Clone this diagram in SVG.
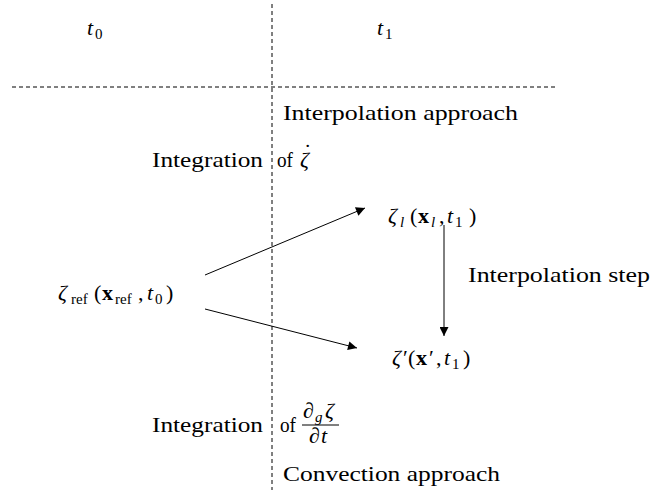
<svg xmlns="http://www.w3.org/2000/svg" width="651" height="494" viewBox="0 0 651 494">
<style>
text{font-family:"Liberation Serif","DejaVu Serif",serif;font-size:21px;fill:#000}
.m{font-size:22px}
.it{font-style:italic}
.b{font-weight:bold}
.sub{font-size:15px}
.dash{stroke:#000;stroke-width:1;stroke-dasharray:4,3;fill:none}
.conn{stroke:#000;stroke-width:1;fill:none}
</style>
<defs>
<marker id="ah" viewBox="0 0 10 10" refX="10" refY="5" markerWidth="22" markerHeight="9" markerUnits="userSpaceOnUse" orient="auto">
<path d="M0,0 L10,5 L0,10 Z" fill="#000"/>
</marker>
</defs>
<g id="guides">
<line class="dash" x1="272" y1="4" x2="272" y2="490"/>
<line class="dash" x1="12" y1="87" x2="558" y2="87"/>
</g>
<g id="labels">
<text class="m" y="35"><tspan class="it" x="87">t</tspan><tspan class="sub" x="95" dy="4">0</tspan></text>
<text class="m" y="35"><tspan class="it" x="377">t</tspan><tspan class="sub" x="385" dy="4">1</tspan></text>
<text x="283" y="120" textLength="235" lengthAdjust="spacingAndGlyphs">Interpolation approach</text>
<text x="152" y="167" textLength="111" lengthAdjust="spacingAndGlyphs">Integration</text>
<text x="277" y="167" textLength="16" lengthAdjust="spacingAndGlyphs">of</text>
<text class="m" y="167"><tspan class="it" x="300">ζ</tspan><tspan x="304" dy="-8">˙</tspan></text>
<text x="468" y="282" textLength="182" lengthAdjust="spacingAndGlyphs">Interpolation step</text>
<text x="152" y="432" textLength="111" lengthAdjust="spacingAndGlyphs">Integration</text>
<text x="280" y="432" textLength="16" lengthAdjust="spacingAndGlyphs">of</text>
<text x="283" y="481" textLength="217" lengthAdjust="spacingAndGlyphs">Convection approach</text>
</g>
<g id="fraction">
<text class="m" y="418"><tspan class="it" x="303">∂</tspan><tspan class="it sub" x="315" dy="4">g</tspan><tspan class="it" x="325" dy="-4">ζ</tspan></text>
<line x1="302" y1="425" x2="339" y2="425" stroke="#000" stroke-width="1"/>
<text class="m" y="443"><tspan class="it" x="309">∂</tspan><tspan class="it" x="321">t</tspan></text>
</g>
<g id="node-ref">
<text class="m" y="300"><tspan class="it" x="58">ζ</tspan><tspan class="sub" x="71" dy="4">ref</tspan><tspan x="94" dy="-4">(</tspan><tspan class="b" x="102">x</tspan><tspan class="sub" x="115" dy="4">ref</tspan><tspan x="138" dy="-4">,</tspan><tspan class="it" x="147">t</tspan><tspan class="sub" x="155" dy="4">0</tspan><tspan x="166" dy="-4">)</tspan></text>
</g>
<g id="node-l">
<text class="m" y="223"><tspan class="it" x="388">ζ</tspan><tspan class="it sub" x="400" dy="4">l</tspan><tspan x="410" dy="-4">(</tspan><tspan class="b" x="418">x</tspan><tspan class="it sub" x="431" dy="4">l</tspan><tspan x="439" dy="-4">,</tspan><tspan class="it" x="447">t</tspan><tspan class="sub" x="455" dy="4">1</tspan><tspan x="469" dy="-4">)</tspan></text>
</g>
<g id="node-prime">
<text class="m" y="365"><tspan class="it" x="392">ζ</tspan><tspan x="403">′</tspan><tspan x="408">(</tspan><tspan class="b" x="416">x</tspan><tspan x="429">′</tspan><tspan x="436">,</tspan><tspan class="it" x="444">t</tspan><tspan class="sub" x="452" dy="4">1</tspan><tspan x="463" dy="-4">)</tspan></text>
</g>
<g id="connectors">
<line class="conn" x1="205" y1="275" x2="365" y2="208" marker-end="url(#ah)"/>
<line class="conn" x1="205" y1="309" x2="357" y2="348" marker-end="url(#ah)"/>
<line class="conn" x1="444" y1="225" x2="444" y2="336" marker-end="url(#ah)"/>
</g>
</svg>
